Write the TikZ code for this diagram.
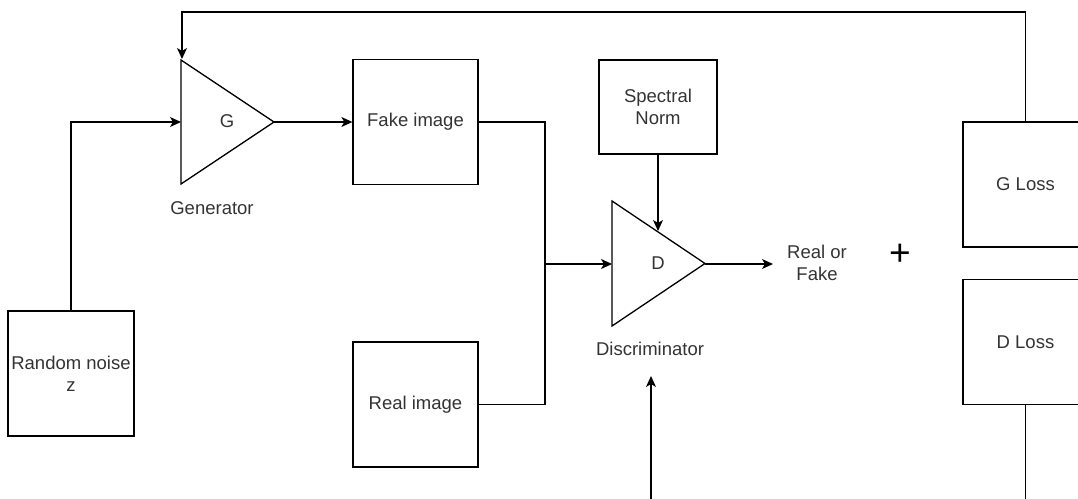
\documentclass[tikz,border=0pt]{standalone}
\usepackage{fontspec}
\setmainfont{Liberation Sans}
\usetikzlibrary{arrows.meta}
\definecolor{txt}{HTML}{333333}
\begin{document}
\begin{tikzpicture}[x=1pt,y=-1pt,
  ln/.style={line width=1.3pt,draw=black},
  arr/.style={ln,-{Stealth[length=11pt,width=10pt,inset=3pt]}},
  box/.style={ln,rectangle,minimum width=125pt,minimum height=125pt,inner sep=0pt,align=center,text=txt},
  lbl/.style={inner sep=0pt,align=center,text=txt},
  every node/.append style={font=\fontsize{18.5}{22}\selectfont}]
\useasboundingbox (0,0) rectangle (1078,498);
\clip (0,0) rectangle (1078,498);

% boxes
\node[box,minimum width=126pt] (noise) at (71,373.5) {Random noise\\z};
\node[box] (fake) at (415.5,122) {Fake image};
\node[box] (real) at (415.5,404.5) {Real image};
\node[box,minimum width=118pt,minimum height=94pt] (sn) at (658,107) {Spectral\\Norm};
\node[box] (gloss) at (1025.5,184.5) {G Loss};
\node[box] (dloss) at (1025.5,342) {D Loss};

% triangles
\draw[ln,line join=miter] (181,60) -- (274,122) -- (181,184) -- cycle;
\draw[ln,line join=miter] (612,201) -- (705,263.5) -- (612,326) -- cycle;
\node[lbl] (G) at (227,121) {G};
\node[lbl] (D) at (658,263) {D};
\node[lbl] (gen) at (212,208) {Generator};
\node[lbl] (disc) at (650,349) {Discriminator};
\node[lbl] (rof) at (817,263) {Real or\\Fake};
\node[lbl,text=black,font=\fontsize{37}{37}\selectfont] (plus) at (900,255) {+};

% anchor coordinates
\coordinate (Gin) at (181,122);
\coordinate (Gout) at (274,122);
\coordinate (Gtop) at (182,59);
\coordinate (Din) at (612,264);
\coordinate (Dout) at (705,264);
\coordinate (Dtop) at (658,231);
\coordinate (join) at (545,264);
\coordinate (rofin) at (773,264);
\coordinate (dup) at (651,376);
\coordinate (dbot) at (651,500);
\coordinate (dlend) at (1025.5,500);

% connectors
\draw[arr] (noise.north) |- (Gin);
\draw[arr] (Gout) -- (fake.west);
\draw[ln] (fake.east) -| (join);
\draw[ln] (real.east) -| (join);
\draw[arr] (join) -- (Din);
\draw[arr] (sn.south) -- (Dtop);
\draw[arr] (Dout) -- (rofin);
\draw[arr] (dbot) -- (dup);
\draw[arr] (gloss.north) -- (gloss.north |- 0,12) -| (Gtop);
\draw[ln] (dloss.south) -- (dlend);
\end{tikzpicture}
\end{document}
